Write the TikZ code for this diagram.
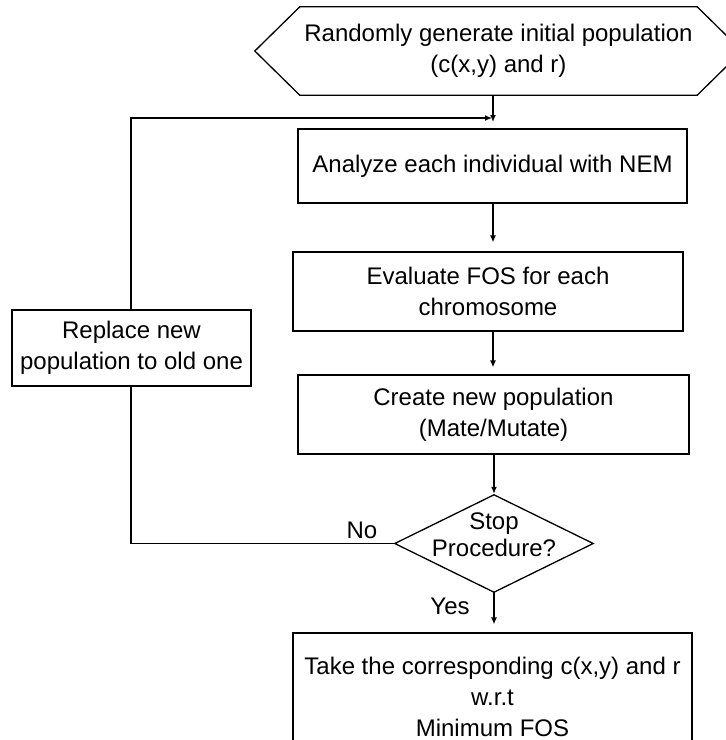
\documentclass[tikz,border=0pt]{standalone}
\usepackage{fontspec}
\setmainfont{Liberation Sans}
\usetikzlibrary{arrows.meta,calc}
\begin{document}
\begin{tikzpicture}[x=1pt,y=-1pt,
  txt/.style={font=\fontsize{24}{31}\selectfont, align=center, inner sep=0pt},
  box/.style={txt, draw, line width=1.3pt},
  frame/.style={txt, draw=none},
  line/.style={line width=1.3pt},
  arr/.style={line width=1.3pt, -{Latex[length=7pt,width=6pt]}}]
\useasboundingbox (0,0) rectangle (726,740);
\clip (0,0) rectangle (726,740);
% start hexagon
\node[frame, minimum width=397pt, minimum height=88pt] (hex) at (498.5,51) {Randomly generate initial population\\(c(x,y) and r)};
\draw[line] (hex.north west) -- (hex.north east) -- ($(hex.east)+(45,0)$) -- (hex.south east) -- (hex.south west) -- ($(hex.west)+(-45,0)$) -- cycle;
% boxes
\node[box, minimum width=389pt, minimum height=74pt] (b1) at (492.5,166) {Analyze each individual with NEM};
\node[box, minimum width=390pt, minimum height=79pt] (b2) at (488,291.5) {Evaluate FOS for each\\chromosome};
\node[box, minimum width=391pt, minimum height=79pt] (b3) at (493.5,414.5) {Create new population\\(Mate/Mutate)};
% decision
\node[frame, minimum width=198pt, minimum height=97pt] (dia) at (494,543.5) {};
\draw[line] (dia.north) -- (dia.east) -- (dia.south) -- (dia.west) -- cycle;
\node[txt, font=\fontsize{24}{27}\selectfont] (diat) at (494,535) {Stop\\Procedure?};
% final and replace
\node[box, minimum width=399pt, minimum height=127pt] (fin) at (492.5,696.5) {Take the corresponding c(x,y) and r\\w.r.t\\Minimum FOS};
\node[box, minimum width=239pt, minimum height=76pt] (rep) at (131.5,348) {Replace new\\population to old one};
% junction
\coordinate (j) at (493,118);
\coordinate (loopx) at (131,543.5);
\draw[arr] (hex.south -| j) -- ($(j)+(0,4)$);
\draw[line] (dia.west) -- (loopx) -- (rep.south -| loopx);
\draw[arr] (rep.north -| loopx) -- (loopx |- j) -- ($(j)+(-1,0)$);
% main flow
\draw[arr] (b1.south -| j) -- ($(b2.north -| j)+(0,-9)$);
\draw[arr] (b2.south -| j) -- ($(b3.north -| j)+(0,-7)$);
\draw[arr] (b3.south -| dia.north) -- ($(dia.north)+(0,-1)$);
\draw[arr] (dia.south) -- ($(fin.north -| dia.south)+(0,-8)$);
% labels
\node[txt] (no) at (362,530) {No};
\node[txt] (yes) at (450,606) {Yes};
\end{tikzpicture}
\end{document}
